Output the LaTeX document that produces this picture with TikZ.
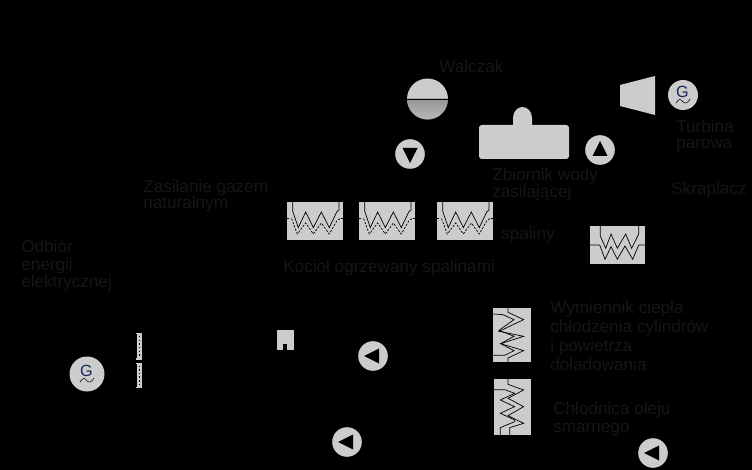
\documentclass[tikz,border=0pt]{standalone}
\usepackage{fontspec}
\setmainfont{Liberation Sans}
\usepackage{xcolor}
\usepackage{tikz}
\usetikzlibrary{positioning}
\definecolor{kogray}{RGB}{204,204,204}
\definecolor{kodark}{RGB}{150,150,150}
\definecolor{kotext}{RGB}{24,20,26}
\definecolor{kogen}{RGB}{20,40,90}
\tikzset{
  lbl/.style={kotext, font=\fontsize{12.2}{#1}\selectfont, anchor=west, align=left, inner sep=0pt},
  lbl/.default=13,
  coil/.style={black, line width=0.5pt},
  coildash/.style={black, line width=0.5pt, dash pattern=on 1.6pt off 1pt},
}
\begin{document}
\begin{tikzpicture}[x=0.25mm, y=-0.25mm]
% outer
\fill[black] (0,0) rectangle (752,470);
\useasboundingbox (0,0) rectangle (752,470);

% ---- drum ----
\fill[kogray] (427.5,99) circle (20.5);
\fill[top color=kodark, bottom color=kogray!90!black] (407,99) arc (180:0:20.5) -- cycle;
\draw[black, line width=0.6pt] (407,99.3) -- (448,99.3);
\node[lbl] (drumlbl) at (439,66) {Walczak};

% ---- feed water tank ----
\fill[kogray, rounded corners=2pt] (479,125) rectangle (569,159);
\fill[kogray] (513,126) -- (513,118) .. controls (513,111) and (518,107) .. (522.5,107)
  .. controls (527,107) and (532,111) .. (532,118) -- (532,126) -- cycle;
\node[lbl=10.8] (tanklbl) at (492,184.5) {Zbiornik wody\\zasilającej};

% ---- turbine + generators ----
\fill[kogray] (620,85) -- (655,76) -- (655,115) -- (620,106) -- cycle;
\node[lbl=10.8] (turblbl) at (676,136) {Turbina\\parowa};
\node[lbl] (condlbl) at (671,190) {Skraplacz};
\foreach \gx/\gy/\gr/\gname in {683/95/15/gentop, 87/374/17.5/genbot}{
  \fill[kogray] (\gx,\gy) circle (\gr);
  \node[kogen, font=\fontsize{11.5}{11.5}\selectfont, inner sep=0pt] (\gname) at (\gx-0.5,\gy-3.5) {G};
  \draw[black, line width=0.4pt] (\gx-7,\gy+8) .. controls (\gx-4,\gy+3) and (\gx-2,\gy+4) .. (\gx,\gy+7)
    .. controls (\gx+2,\gy+9) and (\gx+5,\gy+8) .. (\gx+7,\gy+4);
}

% ---- pumps ----
\foreach \px/\py/\rot in {410/154/90, 600/150/-90, 373/356/0, 347/442/0, 653/453/0}{
  \fill[kogray] (\px,\py) circle (14.8);
  \fill[black, shift={(\px,\py)}, rotate=\rot] (-9,0) -- (6,-7.5) -- (6,7.5) -- cycle;
}

% ---- boiler exchangers ----
\foreach \xx in {287,359,437}{
  \begin{scope}[shift={(\xx,202)}]
  \fill[kogray] (0,0) rectangle (56,38);
  \draw[coil] (5.7,0) -- (5.7,9.3) -- (11.3,25.6) -- (18.7,10) -- (26.3,25.6) -- (34.3,10)
    -- (42.3,25.6) -- (49.7,10) -- (52,8) -- (52,0);
  \draw[coildash] (4.5,16.5) -- (10.3,32) -- (18.7,21) -- (26.3,32) -- (34.3,21) -- (42.3,32)
    -- (49.7,19) -- (53,16.5);
  \draw[coil] (0,16.5) -- (2,16.5) (53.5,16.5) -- (56,16.5);
  \end{scope}
}
\node[lbl=11.4] (gaslbl) at (143,196) {Zasilanie gazem\\naturalnym};
\node[lbl] (boillbl) at (283,268) {Kocioł ogrzewany spalinami};
\node[lbl] (exhlbl) at (501,235) {spaliny};

% ---- condenser exchanger ----
\begin{scope}[shift={(590,226)}]
\fill[kogray] (0,0) rectangle (55,38);
\draw[coil] (10.3,0) -- (10.3,10) -- (15.7,22.3) -- (21,8) -- (27.3,22.3) -- (35.7,8) -- (41.7,22.3)
  -- (48.7,8) -- (48.7,0);
\draw[coil] (0,19) -- (9.7,19) -- (15,33.3) -- (21,20.7) -- (27.3,33.3) -- (35,20) -- (42.7,33.3)
  -- (48.7,19) -- (55,19);
\end{scope}

% ---- cylinder and charge air exchanger ----
\begin{scope}[shift={(488,303)}, x=0.0833mm, y=-0.0833mm]
\fill[kogray] (15,14) rectangle (130,177);
\draw[coil] (60,14) -- (60,28) -- (107,50) -- (33,85) -- (107,100) -- (38,122) -- (107,143) -- (60,165) -- (60,177);
\draw[coil] (15,33) -- (45,35) -- (78,50) -- (33,82) -- (78,100) -- (38,122) -- (78,143) -- (50,157) -- (15,157);
\end{scope}
\node[lbl=13.4] (hxlbl) at (550,336) {Wymiennik ciepła\\chłodzenia cylindrów\\i powietrza\\doładowania};

% ---- oil cooler ----
\begin{scope}[shift={(488,375)}, x=0.0833mm, y=-0.0833mm]
\fill[kogray] (18,12) rectangle (130,180);
\draw[coil] (60,12) -- (60,28) -- (107,45) -- (60,70) -- (107,95) -- (60,122) -- (107,145) -- (65,158) -- (65,180);
\draw[coil] (18,44) -- (50,44) -- (80,55) -- (37,75) -- (80,95) -- (37,115) -- (80,135) -- (80,140) -- (37,158) -- (37,180);
\end{scope}
\node[lbl=12.8] (oillbl) at (553,419) {Chłodnica oleju\\smarnego};

% ---- electric side ----
\node[lbl=12.4] (elelbl) at (21,265.5) {Odbiór\\energii\\elektrycznej};
\foreach \yy/\yb in {333/359.5, 362.5/388}{
  \fill[kogray] (136.5,\yy) rectangle (141.5,\yb);
  \fill[kogray] (136,\yy) rectangle (142,\yy+1.5);
  \fill[kogray] (136,\yb-1.5) rectangle (142,\yb);
  \draw[black, line width=0.3pt, dash pattern=on 1pt off 1.6pt] (139,\yy+3) -- (139,\yb-3);
}
\fill[kogray] (277,330) rectangle (294,350);
\fill[black] (283,344) rectangle (287,350);
\end{tikzpicture}
\end{document}
